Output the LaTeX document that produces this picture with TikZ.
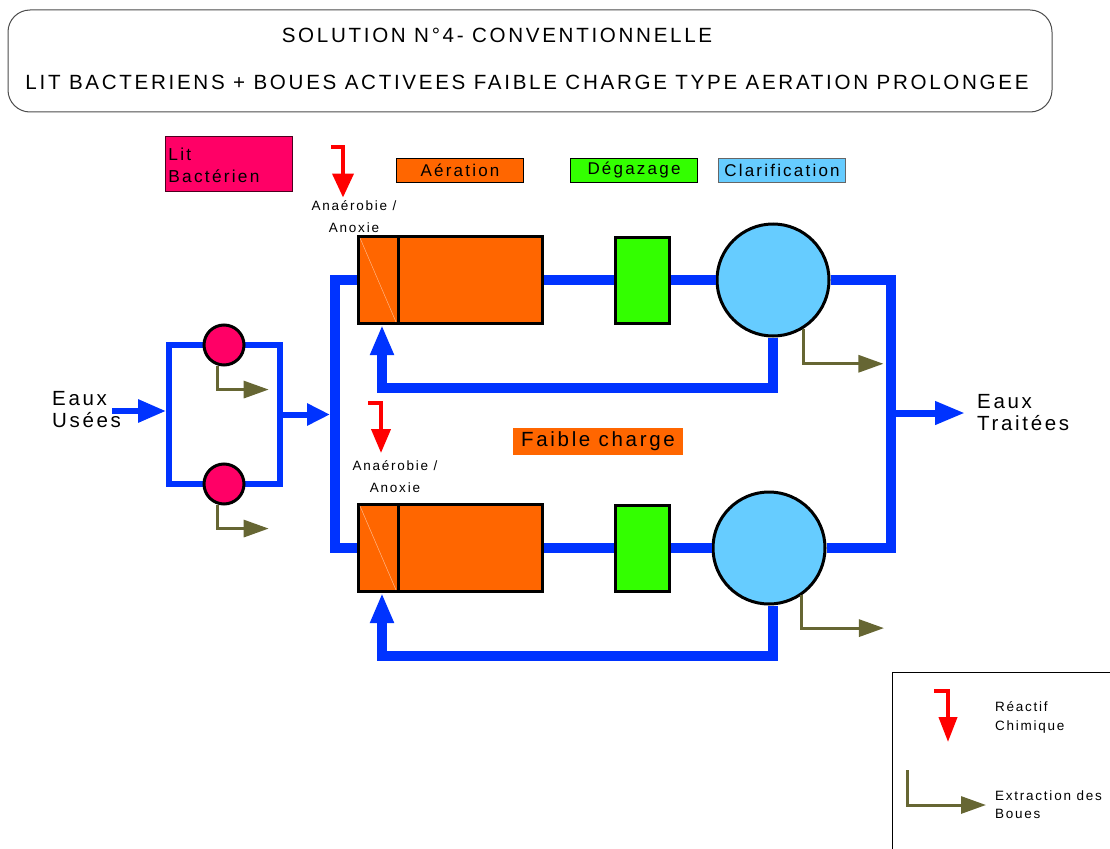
\documentclass[tikz,border=0pt]{standalone}
\usepackage{fontspec}
\setmainfont{Liberation Sans}[LetterSpace=13]
\usetikzlibrary{arrows.meta}

\begin{document}
\begin{tikzpicture}[x=1pt,y=-1pt,
 pipe/.style={draw=bleu,line width=10pt},
 tuyau/.style={draw=bleu,line width=6pt},
 tete/.style={-{Triangle[length=30pt,width=22pt]}},
 boues/.style={draw=boue,line width=3pt,-{Triangle[length=25pt,width=17pt]}},
 reactif/.style={draw=rouge,line width=4pt,-{Triangle[length=24pt,width=21pt]}},
 bassin/.style={draw,line width=3pt,fill=orangeb,minimum width=184pt,minimum height=87pt,inner sep=0pt},
 degaz/.style={draw,line width=3pt,fill=vertd,minimum width=54pt,minimum height=86pt,inner sep=0pt},
 clarif/.style={circle,draw,line width=3pt,fill=bleuc,minimum size=112pt,inner sep=0pt},
 filtre/.style={circle,draw,line width=3pt,fill=rose,minimum size=40pt,inner sep=0pt},
 etiquette/.style={draw,line width=.8pt,minimum width=127pt,minimum height=24pt,inner sep=0pt,font=\fontsize{17}{20}\selectfont},
 grand/.style={font=\fontsize{20.5}{21.5}\selectfont,inner sep=0pt,align=left,anchor=west},
 petit/.style={font=\fontsize{13.5}{21.5}\selectfont,inner sep=0pt,align=center}]
 \definecolor{bleu}{RGB}{0,51,255}
 \definecolor{bleuc}{RGB}{102,204,255}
 \definecolor{orangeb}{RGB}{255,102,0}
 \definecolor{vertd}{RGB}{51,255,0}
 \definecolor{rose}{RGB}{255,0,102}
 \definecolor{boue}{RGB}{102,102,51}
 \definecolor{rouge}{RGB}{255,0,0}
 \useasboundingbox (0,0) rectangle (1110,848);

 \node[draw=black!70,line width=1pt,rounded corners=22pt,
 minimum width=1044pt,minimum height=102pt] (cadre) at (530,61) {};
 \node[font=\fontsize{20.6}{24}\selectfont] (titre1) at (497,35)
 {SOLUTION N°4- CONVENTIONNELLE};
 \node[font=\fontsize{20.6}{24}\selectfont] (titre2) at (527,82)
 {LIT BACTERIENS + BOUES ACTIVEES FAIBLE CHARGE TYPE AERATION PROLONGEE};

 \node[etiquette,draw=black!70!rose,fill=rose,anchor=north west,minimum height=55pt,
 text width=121pt,inner xsep=3pt,align=left,font=\fontsize{17.3}{22}\selectfont]
 (lit) at (165,136) {\vphantom{É}Lit\\Bactérien};
 \node[etiquette,fill=orangeb] (aeration) at (460,170) {Aération};
 \node[etiquette,fill=vertd] (degazage) at (634,170) {Dégazage};
 \node[etiquette,draw=black!60,fill=bleuc] (clarification) at (782,170) {Clarification};
 \node[fill=orangeb,minimum width=170pt,minimum height=27pt,inner sep=0pt,
 font=\fontsize{20.5}{24}\selectfont] (faible) at (598,441.5) {Faible charge};

 \foreach \n/\y/\xc/\dr in {1/280/773/0, 2/548/769/4} {
   \node[bassin] (b\n) at (450.5,\y) {};
   \draw[line width=.4pt,draw=orangeb!40!white]
   ([xshift=3pt,yshift=-3pt]b\n.north west) -- ([xshift=39pt,yshift=3pt]b\n.south west);
   \draw[line width=3pt] ([xshift=41pt]b\n.north west) -- ([xshift=41pt]b\n.south west);
   \node[degaz] (d\n) at (642,\y) {};
   \node[clarif] (c\n) at (\xc,\y) {};
   \draw[pipe] (b\n.east) -- (d\n.west);
   \draw[pipe] (d\n.east) -- (c\n.west);
   \draw[pipe,tete] ([xshift=\dr pt]c\n.south) -- ++(0,50)
   -| ([xshift=25pt]b\n.south west);
 }
 \draw[pipe] (b1.west) -- ++(-22,0) |- (b2.west);
 \draw[pipe] (c1.east) -- ++(60,0) |- (c2.east);
 \draw[boues] (c1.-58) |- ++(80,35);
 \draw[boues] (c2.-55) |- ++(82,33);

 \coordinate (sortie) at (890,413);
 \draw[bleu,line width=7pt,tete] (sortie) -- ++(75,0);
 \node[grand] (traitees) at (977,412.5) {Eaux\\Traitées};

 \node[draw=bleu,line width=6pt,minimum width=111pt,minimum height=139pt] (split) at (224.5,414.5) {};
 \node[filtre] (f1) at (224,345) {};
 \node[filtre] (f2) at (224,484) {};
 \coordinate (entree) at (112,411);
 \draw[tuyau,-{Triangle[length=28pt,width=22pt]}] (entree) -- (entree -| split.west);
 \draw[tuyau,-{Triangle[length=23pt,width=21pt]}] (split.east) -- ++(47,0);
 \draw[boues] (f1.-107) |- ++(51,24);
 \draw[boues] (f2.-107) |- ++(51,24);
 \node[grand] (usees) at (52,409.5) {Eaux\\Usées};

 \coordinate (reac1) at (331,146.5);
 \coordinate (reac2) at (368,403);
 \draw[reactif] (reac1) -| ++(12,51);
 \draw[reactif,-{Triangle[length=24pt,width=19pt]}] (reac2) -| ++(13,50);
 \node[petit] (anox1) at (354,216.5) {Anaérobie /\\Anoxie};
 \node[petit] (anox2) at (395,476.5) {Anaérobie /\\Anoxie};

 \draw[line width=.8pt] (1115,672) -- (892,672) -- (892,855);
 \coordinate (legr) at (934,691);
 \coordinate (legb) at (907,770);
 \draw[reactif,-{Triangle[length=25pt,width=18pt]}] (legr) -| ++(14,51);
 \draw[boues] (legb) |- ++(79,35);
 \node[petit,align=left,anchor=west,font=\fontsize{13.5}{19}\selectfont]
 (reactif) at (995,717.5) {Réactif\\Chimique};
 \node[petit,align=left,anchor=west,font=\fontsize{13.5}{18}\selectfont]
 (extraction) at (995,804.5) {Extraction des\\Boues};
\end{tikzpicture}
\end{document}
